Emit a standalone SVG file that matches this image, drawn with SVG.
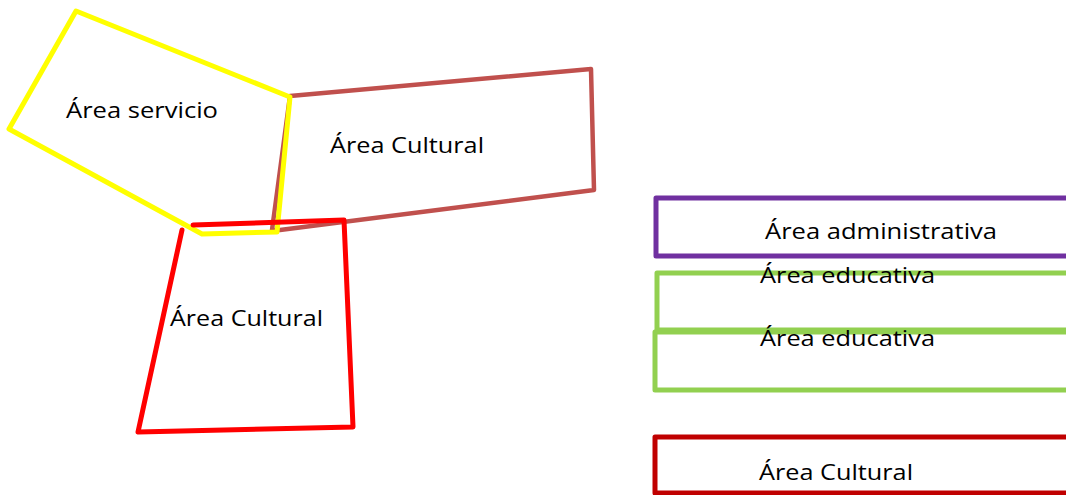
<svg xmlns="http://www.w3.org/2000/svg" width="1066" height="495" viewBox="0 0 1066 495">
<style>
.s{fill:none;stroke-linejoin:round;stroke-linecap:round}
.t{font-family:"Open Sans","Liberation Sans",sans-serif;font-size:22px;fill:#000}
</style>
<rect width="1066" height="495" fill="#fff"/>
<g id="area-cultural-brown">
<polygon class="s" points="290,96 591,69 594,190 280,230 272,230" stroke="#C0504D" stroke-width="4.5"/>
<text class="t" x="330" y="153" textLength="154" lengthAdjust="spacingAndGlyphs">Área Cultural</text>
</g>
<g id="area-servicio">
<polygon class="s" points="76,11 290,97 277,232 202,234 9,129" stroke="#FFFF00" stroke-width="5"/>
<text class="t" x="66" y="118" textLength="152" lengthAdjust="spacingAndGlyphs">Área servicio</text>
</g>
<g id="area-cultural-red">
<polyline class="s" points="182,230 138,432 353,427 344,220 193,225" stroke="#FF0000" stroke-width="5"/>
<text class="t" x="170" y="326" textLength="153" lengthAdjust="spacingAndGlyphs">Área Cultural</text>
</g>
<g id="area-administrativa">
<rect class="s" x="656" y="198" width="420" height="58" stroke="#7030A0" stroke-width="5"/>
<text class="t" x="765" y="239" textLength="232" lengthAdjust="spacingAndGlyphs">Área administrativa</text>
</g>
<g id="area-educativa-1">
<rect class="s" x="657" y="273" width="420" height="57" stroke="#92D050" stroke-width="5"/>
<text class="t" x="760" y="283" textLength="175" lengthAdjust="spacingAndGlyphs">Área educativa</text>
</g>
<g id="area-educativa-2">
<rect class="s" x="655" y="332" width="420" height="58" stroke="#92D050" stroke-width="5"/>
<text class="t" x="760" y="346" textLength="175" lengthAdjust="spacingAndGlyphs">Área educativa</text>
</g>
<g id="area-cultural-right">
<rect class="s" x="655" y="437" width="420" height="56" stroke="#C00000" stroke-width="5"/>
<text class="t" x="759" y="480" textLength="154" lengthAdjust="spacingAndGlyphs">Área Cultural</text>
</g>
<g id="connectors"></g>
</svg>
